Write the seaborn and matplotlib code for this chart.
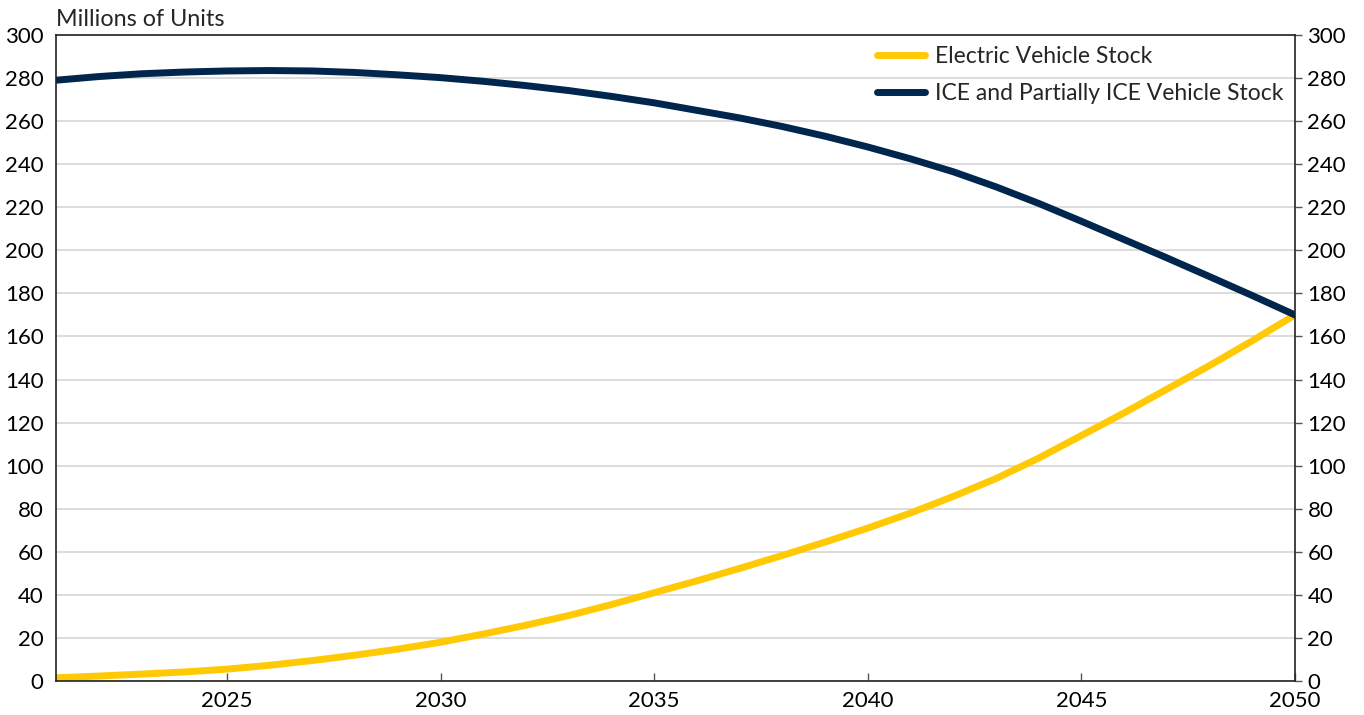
import numpy as np
import pandas as pd
import matplotlib
matplotlib.use('Agg')
import matplotlib.pyplot as plt
import seaborn as sns

# Data (millions of units)
years = list(range(2021, 2051))
ev_stock = [1.5, 2.3, 3.2, 4.2, 5.5, 7.3, 9.5, 12.0, 14.8, 18.0,
            21.8, 25.9, 30.4, 35.5, 41.0, 46.5, 52.3, 58.3, 64.5, 71.0,
            78.0, 85.7, 94.0, 103.5, 114.0, 124.5, 135.5, 146.5, 158.0, 170.0]
ice_stock = [279.0, 280.7, 282.0, 282.8, 283.3, 283.5, 283.3, 282.6, 281.5, 280.2,
             278.5, 276.5, 274.2, 271.5, 268.5, 265.0, 261.5, 257.5, 253.0, 248.0,
             242.5, 236.5, 229.5, 221.8, 213.5, 205.0, 196.5, 187.8, 179.0, 170.0]
series_names = ['Electric Vehicle Stock', 'ICE and Partially ICE Vehicle Stock']
series_colors = ['#FFCA05', '#00264D']
y_ticks = list(range(0, 301, 20))
x_ticks = [2025, 2030, 2035, 2040, 2045, 2050]

sns.set_theme(style="white")
plt.rcParams['font.family'] = ['Lato', 'DejaVu Sans']
plt.rcParams['font.size'] = 16

df = pd.DataFrame({'year': years * 2,
                   'value': ev_stock + ice_stock,
                   'series': [series_names[0]] * len(years) + [series_names[1]] * len(years)})

fig = plt.figure(figsize=(13.64, 7.15), dpi=100)
ax = fig.add_axes([56 / 1364, 1 - 681 / 715, (1295 - 56) / 1364, (681 - 35) / 715])

sns.lineplot(data=df, x='year', y='value', hue='series', hue_order=series_names,
             palette=series_colors, linewidth=5, ax=ax)

ax.set_xlim(2021, 2050)
ax.set_ylim(0, 300)
ax.set_xticks(x_ticks)
ax.set_yticks(y_ticks)
ax.set_xlabel('')
ax.set_ylabel('')
ax.yaxis.grid(True, color='#d9d9d9', linewidth=1.3)
ax.set_axisbelow(True)

for side in ['left', 'right', 'top', 'bottom']:
    ax.spines[side].set_visible(True)
    ax.spines[side].set_color('#222222')
    ax.spines[side].set_linewidth(1.2)

ax.tick_params(axis='x', direction='in', length=6, width=1, color='#555555',
               labelsize=16, labelcolor='black', pad=7, bottom=True)
ax.tick_params(axis='y', left=False, right=True, labelleft=True, labelright=True,
               direction='out', length=5, width=1, color='#555555',
               labelsize=16, labelcolor='black', pad=4)

ax.text(0.0, 1.008, 'Millions of Units', transform=ax.transAxes,
        fontsize=16.8, ha='left', va='bottom')

leg = ax.legend(loc='upper right', bbox_to_anchor=(1.0, 1.0), frameon=False,
                fontsize=16.5, handlelength=2.1, handletextpad=0.45,
                labelspacing=0.7, borderaxespad=0.2, borderpad=0.3)
for line in leg.get_lines():
    line.set_linewidth(5)

fig.savefig('out.png', dpi=100)
plt.close()
